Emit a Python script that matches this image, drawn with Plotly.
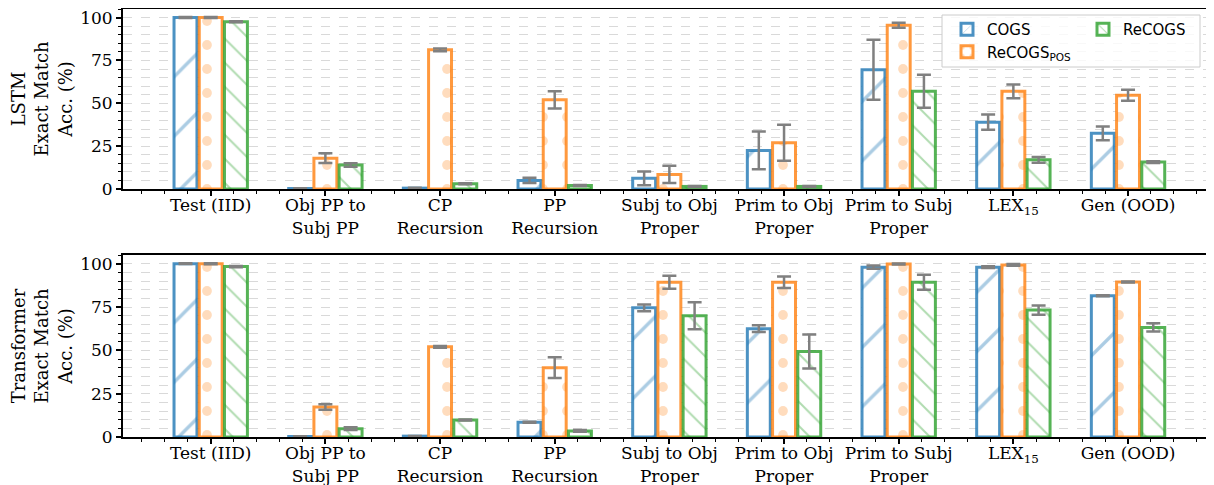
import plotly.graph_objects as go
from plotly.subplots import make_subplots

categories = ["Test (IID)", "Obj PP to<br>Subj PP", "CP<br>Recursion", "PP<br>Recursion",
              "Subj to Obj<br>Proper", "Prim to Obj<br>Proper", "Prim to Subj<br>Proper",
              "LEX<sub>15</sub>", "Gen (OOD)"]
series_names = ["COGS", "ReCOGS<sub>POS</sub>", "ReCOGS"]

# LSTM
lstm_cogs = [100, 0.3, 0.5, 5, 6.2, 22.5, 69.5, 39, 32.5]
lstm_cogs_err = [0.3, 0.2, 0.3, 1.5, 4, 11, 17.5, 4.5, 4]
lstm_pos = [100, 18, 81.2, 52, 8.5, 27, 95.5, 57, 54.7]
lstm_pos_err = [0.3, 2.8, 0.8, 5, 5, 10.5, 1.5, 4, 3.2]
lstm_recogs = [97.5, 14, 3, 2, 1.5, 1.5, 57, 17, 15.7]
lstm_recogs_err = [0.3, 1, 0.3, 0.3, 0.3, 0.3, 9.6, 1.7, 0.5]

# Transformer
tf_cogs = [100, 0.3, 0.5, 8.5, 74.5, 62.5, 98, 98, 81.5]
tf_cogs_err = [0.2, 0.1, 0.1, 0.3, 1.9, 1.9, 1, 0.5, 0.3]
tf_pos = [100, 17.3, 52, 40, 89.3, 89.3, 99.8, 99.3, 89.4]
tf_pos_err = [0.3, 1.6, 0.5, 6, 3.7, 3.3, 0.3, 0.5, 0.3]
tf_recogs = [98.3, 4.8, 9.8, 3.5, 69.9, 49.3, 89.3, 73.2, 63.2]
tf_recogs_err = [0.3, 0.8, 0.3, 0.5, 7.8, 9.8, 4.3, 2.6, 2.4]

edge_colors = ["rgba(31,119,180,0.8)", "rgba(255,127,14,0.8)", "rgba(44,160,44,0.8)"]
hatch_colors = ["rgba(31,119,180,0.75)", "rgba(255,127,14,0.55)", "rgba(44,160,44,0.75)"]
shapes = ["/", ".", "\\"]
sizes = [42, 24, 17]
solid = [0.08, 0.13, 0.12]
offsets = [-0.32, -0.1, 0.12]
legends = ["legend", "legend", "legend2"]

x = list(range(len(categories)))

fig = make_subplots(rows=2, cols=1, vertical_spacing=0.0)

panels = [
    (1, [lstm_cogs, lstm_pos, lstm_recogs], [lstm_cogs_err, lstm_pos_err, lstm_recogs_err]),
    (2, [tf_cogs, tf_pos, tf_recogs], [tf_cogs_err, tf_pos_err, tf_recogs_err]),
]
for row, vals, errs in panels:
    for i in range(3):
        fig.add_trace(go.Bar(
            x=x, y=vals[i], name=series_names[i],
            offset=offsets[i], width=0.2,
            marker=dict(color="white",
                        line=dict(color=edge_colors[i], width=3),
                        pattern=dict(shape=shapes[i], fgcolor=hatch_colors[i], bgcolor="white",
                                     size=sizes[i], solidity=solid[i])),
            error_y=dict(type="data", array=errs[i], color="#808080", thickness=2.5, width=7),
            showlegend=(row == 1), legend=legends[i],
        ), row=row, col=1)

# the page has an 8px body margin; figure coordinates = screen coordinates - 8
OFF = 8
W, H = 1214 - OFF, 485 - OFF
plot_l, plot_r = 123 - OFF, 1206 - OFF
top, bot = 9 - OFF, 437 - OFF
area = bot - top
pw = plot_r - plot_l
top_bottom = 189 - OFF
bot_top = 255 - OFF

fig.update_layout(
    width=W, height=H,
    margin=dict(l=plot_l, r=W - plot_r, t=top, b=H - bot),
    plot_bgcolor="white", paper_bgcolor="white",
    barmode="overlay",
    font=dict(family="DejaVu Serif", size=17, color="black"),
    legend=dict(x=(947 - OFF - plot_l) / pw, y=(bot - (13 - OFF)) / area, xanchor="left", yanchor="top",
                bgcolor="rgba(0,0,0,0)", font=dict(family="DejaVu Sans", size=15),
                tracegroupgap=0, itemwidth=30),
    legend2=dict(x=(1083 - OFF - plot_l) / pw, y=(bot - (13 - OFF)) / area, xanchor="left", yanchor="top",
                 bgcolor="rgba(0,0,0,0)", font=dict(family="DejaVu Sans", size=15),
                 tracegroupgap=0, itemwidth=30),
)

fig.update_layout(
    yaxis=dict(domain=[(bot - top_bottom) / area, 1]),
    yaxis2=dict(domain=[0, (bot - bot_top) / area]),
)

for r, title in [(1, "LSTM<br>Exact Match<br>Acc. (%)"), (2, "Transformer<br>Exact Match<br>Acc. (%)")]:
    fig.update_xaxes(row=r, col=1, range=[-0.765, 8.68], tickmode="array", tickvals=x,
                     ticktext=categories, showline=True, linecolor="black", linewidth=2,
                     mirror=True, ticks="outside", ticklen=5, tickwidth=1.5, tickcolor="black",
                     showgrid=False, zeroline=False, automargin=False,
                     ticklabelstandoff=-5, ticklabeloverflow="allow",
                     tickfont=dict(family="DejaVu Serif", size=17),
                     minor=dict(tick0=0, dtick=0.2, ticks="outside", ticklen=3, tickwidth=1,
                                tickcolor="black", showgrid=False))
    fig.update_yaxes(row=r, col=1, range=[0, 105], tickvals=[0, 25, 50, 75, 100],
                     showline=True, linecolor="black", linewidth=2, mirror=True,
                     ticks="outside", ticklen=5, tickwidth=1.5, tickcolor="black",
                     showgrid=True, gridcolor="#d9d9d9", griddash="dash", gridwidth=1,
                     zeroline=False, automargin=False, ticklabeloverflow="allow",
                     tickfont=dict(family="DejaVu Serif", size=17),
                     title=dict(text=title, font=dict(family="DejaVu Serif", size=18), standoff=10),
                     minor=dict(dtick=5, ticks="outside", ticklen=3, tickwidth=1, tickcolor="black",
                                showgrid=True, gridcolor="#d9d9d9", griddash="dash", gridwidth=1))

# legend frame
top_h = top_bottom - top
fig.add_shape(type="rect", xref="x domain", yref="y domain",
              x0=(942 - OFF - plot_l) / pw, x1=(1200 - OFF - plot_l) / pw,
              y0=(top_bottom - (67 - OFF)) / top_h, y1=(top_bottom - (15 - OFF)) / top_h,
              line=dict(color="#cccccc", width=1), fillcolor="rgba(255,255,255,0.8)", layer="above")

fig.write_html("out.html")
